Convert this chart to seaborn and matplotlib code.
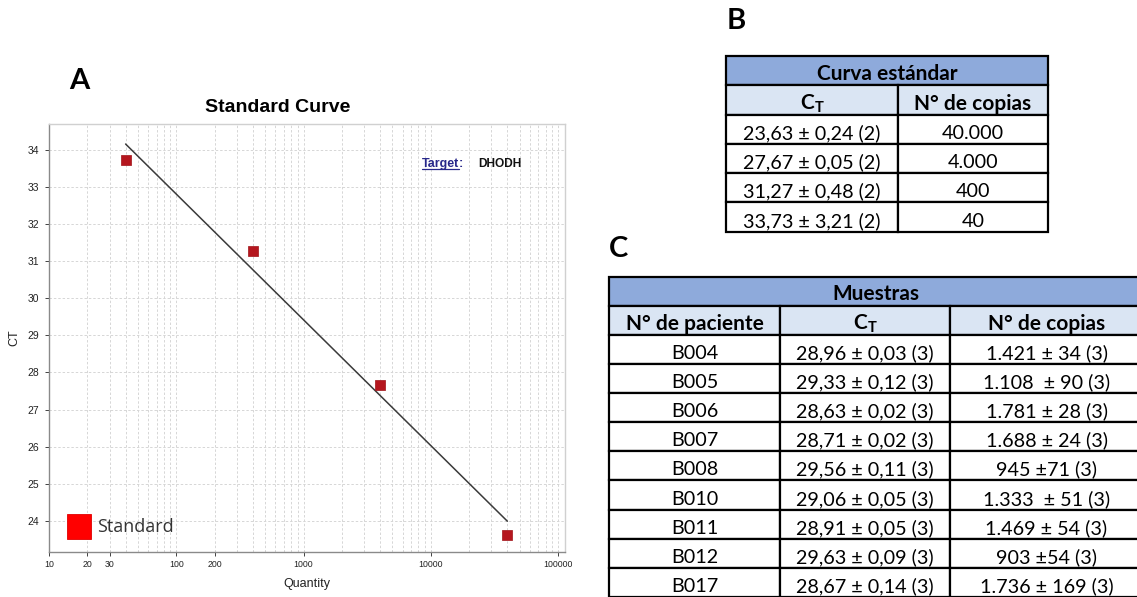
import numpy as np
import pandas as pd
import matplotlib
matplotlib.use("Agg")
import matplotlib.pyplot as plt
import seaborn as sns
from matplotlib.patches import Rectangle
from matplotlib.ticker import FixedLocator, FixedFormatter, LogLocator, NullFormatter

# ---------------- data ----------------
quantity = [40, 400, 4000, 40000]
ct_values = [33.73, 31.27, 27.67, 23.63]
x_tick_values = [10, 20, 30, 100, 200, 1000, 10000, 100000]
x_tick_labels = ["10", "20", "30", "100", "200", "1000", "10000", "100000"]
y_tick_values = [24, 25, 26, 27, 28, 29, 30, 31, 32, 33, 34]

std_title = "Curva estándar"
std_headers = [r"$\mathbf{C_T}$", "N° de copias"]
std_ct = ["23,63 ± 0,24 (2)", "27,67 ± 0,05 (2)", "31,27 ± 0,48 (2)", "33,73 ± 3,21 (2)"]
std_copies = ["40.000", "4.000", "400", "40"]

samples_title = "Muestras"
samples_headers = ["N° de paciente", r"$\mathbf{C_T}$", "N° de copias"]
patients = ["B004", "B005", "B006", "B007", "B008", "B010", "B011", "B012", "B017"]
sample_ct = ["28,96 ± 0,03 (3)", "29,33 ± 0,12 (3)", "28,63 ± 0,02 (3)",
             "28,71 ± 0,02 (3)", "29,56 ± 0,11 (3)", "29,06 ± 0,05 (3)",
             "28,91 ± 0,05 (3)", "29,63 ± 0,09 (3)", "28,67 ± 0,14 (3)"]
sample_copies = ["1.421 ± 34 (3)", "1.108  ± 90 (3)", "1.781 ± 28 (3)",
                 "1.688 ± 24 (3)", "945 ±71 (3)", "1.333  ± 51 (3)",
                 "1.469 ± 54 (3)", "903 ±54 (3)", "1.736 ± 169 (3)"]

# ---------------- figure ----------------
sns.set_theme(style="white")
plt.rcParams['font.family'] = ['Liberation Sans', 'DejaVu Sans']
plt.rcParams['mathtext.fontset'] = 'custom'
plt.rcParams['mathtext.rm'] = 'Lato'
plt.rcParams['mathtext.bf'] = 'Lato:bold'
plt.rcParams['mathtext.it'] = 'Lato:italic'

W, H = 1137, 597
fig = plt.figure(figsize=(W / 100, H / 100), dpi=100)
fig.patch.set_facecolor("white")


def rect(l, t, r, b):
    return [l / W, 1 - b / H, (r - l) / W, (b - t) / H]


# ---------------- panel A ----------------
ax = fig.add_axes(rect(49, 124, 565, 552))
df = pd.DataFrame({"Quantity": quantity, "CT": ct_values})
ax.set_xscale("log")
sns.regplot(data=df, x="Quantity", y="CT", logx=True, ci=None, scatter=False,
            ax=ax, line_kws=dict(color="#3a3a3a", lw=1.1), truncate=True)
sns.scatterplot(data=df, x="Quantity", y="CT", marker="s", s=62, color="#b5161e",
                edgecolor="#a01218", linewidth=0.5, ax=ax, zorder=5, legend=False)

ax.set_xlim(10, 113500)
ax.set_ylim(23.16, 34.7)
ax.xaxis.set_major_locator(FixedLocator(x_tick_values))
ax.xaxis.set_major_formatter(FixedFormatter(x_tick_labels))
ax.xaxis.set_minor_locator(LogLocator(base=10, subs=np.arange(2, 10), numticks=20))
ax.xaxis.set_minor_formatter(NullFormatter())
ax.set_yticks(y_tick_values)
ax.tick_params(axis="x", which="major", labelsize=6.3, colors="#222222", length=3,
               width=0.6, direction="out", pad=3, bottom=True)
ax.tick_params(axis="x", which="minor", length=0)
ax.tick_params(axis="y", which="major", labelsize=7.5, colors="#222222", length=3,
               width=0.6, direction="out", pad=4, left=True)
ax.grid(True, which="both", axis="x", color="#d6d6d6", linestyle=(0, (2.5, 2)), lw=0.7)
ax.grid(True, which="major", axis="y", color="#d6d6d6", linestyle=(0, (2.5, 2)), lw=0.7)
ax.set_axisbelow(True)
for side in ["left", "bottom"]:
    ax.spines[side].set_color("#8a8a8a")
    ax.spines[side].set_linewidth(1.0)
for side in ["top", "right"]:
    ax.spines[side].set_color("#d0d0d0")
    ax.spines[side].set_linewidth(1.0)
ax.set_xlabel("Quantity", fontsize=9, color="#222222", labelpad=6)
ax.set_ylabel("CT", fontsize=9, color="#222222", labelpad=5)

# ---------------- overlay (pixel coords) ----------------
ov = fig.add_axes([0, 0, 1, 1], facecolor="none")
ov.set_xlim(0, W)
ov.set_ylim(H, 0)
ov.axis("off")

ov.text(278, 107, "Standard Curve", fontsize=14, fontweight="bold", color="black",
        ha="center", va="center")

# panel letters
for letter, (lx, ly) in zip(["A", "B", "C"], [(79, 81), (736, 21), (619, 249)]):
    ov.text(lx, ly, letter, fontsize=21, fontweight="bold", family=["Lato", "DejaVu Sans"],
            ha="center", va="center", color="black")

# legend of plot
ov.add_patch(Rectangle((67, 514), 24, 25, facecolor="#ff0000", edgecolor="#e00000", lw=0.6))
ov.text(97, 527.5, "Standard", fontsize=13, family=["Open Sans", "DejaVu Sans"],
        color="#333333", ha="left", va="center")

# target label
t_target = ov.text(422, 167, "Target", fontsize=9, fontweight="bold", color="#28288a",
                   ha="left", va="baseline")
fig.canvas.draw()
renderer = fig.canvas.get_renderer()
bb = t_target.get_window_extent(renderer)
inv = ov.transData.inverted()
(x0, _), (x1, _) = inv.transform([(bb.x0, bb.y0), (bb.x1, bb.y1)])
ov.plot([x0, x1], [168.8, 168.8], color="#28288a", lw=0.9)
ov.text(x1 - 0.8, 167, ":", fontsize=9, fontweight="bold", color="#28288a",
        ha="left", va="baseline")
ov.text(478, 167, "DHODH", fontsize=8.6, fontweight="bold", color="#111111",
        ha="left", va="baseline")

# ---------------- tables ----------------
HEAD = "#8eaadb"
SUB = "#dae5f3"
FONT = ["Lato", "DejaVu Sans"]
FS = 14.2
FSB = 15
LW = 1.6


def cell(x0, y0, x1, y1, text, fc="white", bold=False):
    ov.add_patch(Rectangle((x0, y0), x1 - x0, y1 - y0, facecolor=fc,
                           edgecolor="black", lw=LW, clip_on=False, joinstyle="miter"))
    ov.text((x0 + x1) / 2, y1 - 5, text, fontsize=FSB if bold else FS, family=FONT,
            fontweight="bold" if bold else "normal", ha="center", va="baseline",
            color="black")


# table B
bx = [726, 898, 1048]
by = [56, 85, 115, 144, 173, 202, 232]
cell(bx[0], by[0], bx[2], by[1], std_title, fc=HEAD, bold=True)
for j, h in enumerate(std_headers):
    cell(bx[j], by[1], bx[j + 1], by[2], h, fc=SUB, bold=True)
for i, (c, n) in enumerate(zip(std_ct, std_copies)):
    cell(bx[0], by[i + 2], bx[1], by[i + 3], c)
    cell(bx[1], by[i + 2], bx[2], by[i + 3], n)

# table C
cx = [609, 780, 950, 1143]
row_h = 29.2
cy = [277, 305.5, 334.5]
for i in range(len(patients)):
    cy.append(cy[-1] + row_h)
cell(cx[0], cy[0], cx[3], cy[1], samples_title, fc=HEAD, bold=True)
for j, h in enumerate(samples_headers):
    cell(cx[j], cy[1], cx[j + 1], cy[2], h, fc=SUB, bold=True)
for i, (p, c, n) in enumerate(zip(patients, sample_ct, sample_copies)):
    cell(cx[0], cy[i + 2], cx[1], cy[i + 3], p)
    cell(cx[1], cy[i + 2], cx[2], cy[i + 3], c)
    cell(cx[2], cy[i + 2], cx[3], cy[i + 3], n)

fig.savefig("out.png", dpi=100, facecolor="white")
